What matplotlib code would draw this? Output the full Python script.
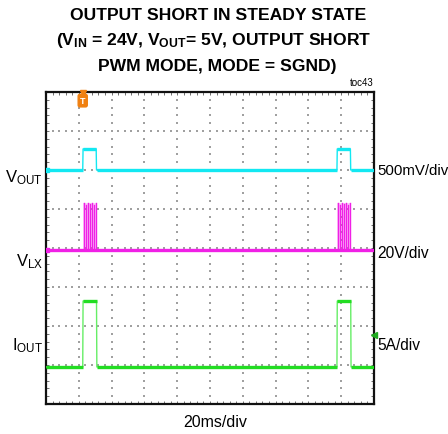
import matplotlib
matplotlib.use("Agg")
import matplotlib.pyplot as plt
import numpy as np

plt.rcParams['font.family'] = ['Liberation Sans', 'DejaVu Sans']
plt.rcParams['mathtext.fontset'] = 'custom'
plt.rcParams['mathtext.rm'] = 'Liberation Sans'
plt.rcParams['mathtext.bf'] = 'Liberation Sans:bold'
plt.rcParams['mathtext.default'] = 'regular'

# ---------------- data (physical units) ----------------
time_per_div_ms = 20.0
# VOUT (V), 500 mV/div
vout_t = [0, 22.4, 22.6, 30.6, 30.8, 177.4, 177.6, 185.6, 185.8, 200]
vout_v = [0, 0, 0.27, 0.27, 0, 0, 0.27, 0.27, 0, 0]
vout_scale = 0.5
vout_offset_div = 6.0
# IOUT (A), 5 A/div
iout_t = [0, 22.4, 22.6, 30.8, 31.0, 177.4, 177.6, 185.8, 186.0, 200]
iout_v = [0, 0, 8.45, 8.45, 0, 0, 8.45, 8.45, 0, 0]
iout_scale = 5.0
iout_offset_div = 0.95
# VLX (V), 20 V/div : switching bursts during the hiccup pulses
vlx_spikes_ms = [23.0, 24.2, 25.5, 26.6, 27.9, 29.1, 30.2,
                 178.0, 179.2, 180.5, 181.6, 182.9, 184.1, 185.2]
vlx_peaks_v = [24, 23, 24, 23.5, 24, 23, 24,
               24, 23, 24, 23.5, 24, 23, 24]
vlx_bursts_ms = [(22.6, 30.6), (177.6, 185.6)]
vlx_burst_top_v = 24.0
vlx_low_v = 0.0
vlx_scale = 20.0
vlx_offset_div = 3.95

trigger_ms = 22.4
iout_marker_div = 1.77

W, H = 448, 435
fig = plt.figure(figsize=(W / 100, H / 100), dpi=100)
ax = fig.add_axes([46 / W, (H - 405) / H, 328 / W, 312 / H])
ax.set_xlim(0, 10)
ax.set_ylim(0, 8)

# graticule: dotted
xs_minor = np.arange(0, 10.001, 0.2)
ys_minor = np.arange(0, 8.001, 0.2)
for xv in range(1, 10):
    ax.scatter(np.full_like(ys_minor, xv), ys_minor, s=0.9, c='#a0a0a0',
               marker='s', linewidths=0, zorder=1)
for yv in range(1, 8):
    ax.scatter(xs_minor, np.full_like(xs_minor, yv), s=0.9, c='#a0a0a0',
               marker='s', linewidths=0, zorder=1)

ax.set_xticks(xs_minor)
ax.set_yticks(ys_minor)
ax.tick_params(direction='in', length=2.5, width=0.7, color='#707070',
               top=True, right=True, labelbottom=False, labelleft=False)
for sp in ax.spines.values():
    sp.set_linewidth(1.6)
    sp.set_color('#111111')

def to_div_x(t):
    return np.asarray(t) / time_per_div_ms

cyan = '#12E8F2'
magenta = '#F020E6'
green = '#22DD22'

# VOUT
vx = to_div_x(vout_t)
vy = np.asarray(vout_v) / vout_scale + vout_offset_div
ax.plot(vx, vy, color=cyan, lw=1.0, zorder=3)
for i in range(len(vx) - 1):
    if vy[i] == vy[i + 1]:
        ax.plot(vx[i:i + 2], vy[i:i + 2], color=cyan, lw=2.4, zorder=3,
                solid_capstyle='butt')

# VLX
ax.plot([0, 10], [vlx_offset_div + vlx_low_v / vlx_scale] * 2, color=magenta,
        lw=2.4, zorder=3)
for (a, b) in vlx_bursts_ms:
    ax.fill_between(to_div_x([a, b]), vlx_offset_div,
                    vlx_offset_div + vlx_burst_top_v / vlx_scale,
                    color=magenta, alpha=0.22, linewidth=0, zorder=2)
for t, p in zip(vlx_spikes_ms, vlx_peaks_v):
    ax.plot(to_div_x([t, t]), [vlx_offset_div, vlx_offset_div + p / vlx_scale],
            color=magenta, lw=1.0, zorder=3)

# IOUT
ix = to_div_x(iout_t)
iy = np.asarray(iout_v) / iout_scale + iout_offset_div
ax.plot(ix, iy, color='#66EE66', lw=1.0, zorder=3)
for i in range(len(ix) - 1):
    if iy[i] == iy[i + 1]:
        ax.plot(ix[i:i + 2], iy[i:i + 2], color=green, lw=2.4, zorder=3,
                solid_capstyle='butt')

# markers
ax.plot([10], [iout_marker_div], marker='<', color='#1FAA1F', ms=5,
        clip_on=False, zorder=5)
ax.plot([0.03], [vout_offset_div], marker='s', color=cyan, ms=2.5, zorder=5)
ax.plot([0.03], [vlx_offset_div], marker='s', color=magenta, ms=2.5, zorder=5)
tx = to_div_x(trigger_ms)
ax.plot([tx], [7.97], marker='v', color='#F08010', ms=4, clip_on=False, zorder=5)
ax.text(tx, 7.78, 'T', ha='center', va='center', fontsize=6.5, color='white',
        fontweight='bold',
        bbox=dict(boxstyle='round,pad=0.2', fc='#F08010', ec='#F08010'),
        zorder=6)

def ft(x, y, s, **kw):
    fig.text(x / W, 1 - y / H, s, **kw)

# title
ft(218, 15, 'OUTPUT SHORT IN STEADY STATE', ha='center', va='center',
   fontsize=12.6, fontweight='bold')
ft(214, 40, r'(V$_{\mathbf{IN}}$ = 24V, V$_{\mathbf{OUT}}$= 5V, OUTPUT SHORT',
   ha='center', va='center', fontsize=12.6, fontweight='bold')
ft(217, 66, 'PWM MODE, MODE = SGND)', ha='center', va='center',
   fontsize=12.6, fontweight='bold')
ft(374, 83, 'toc43', ha='right', va='center', fontsize=7)

# channel labels
ft(43, 178, r'V$_{OUT}$', ha='right', va='center', fontsize=12)
ft(43, 262, r'V$_{LX}$', ha='right', va='center', fontsize=12)
ft(43, 346, r'I$_{OUT}$', ha='right', va='center', fontsize=12)
ft(377, 171, '500mV/div', ha='left', va='center', fontsize=10.8)
ft(377, 253, '20V/div', ha='left', va='center', fontsize=11.2)
ft(377, 345, '5A/div', ha='left', va='center', fontsize=11.2)
ft(215, 423, '20ms/div', ha='center', va='center', fontsize=11.5)

fig.savefig('out.png', dpi=100)
